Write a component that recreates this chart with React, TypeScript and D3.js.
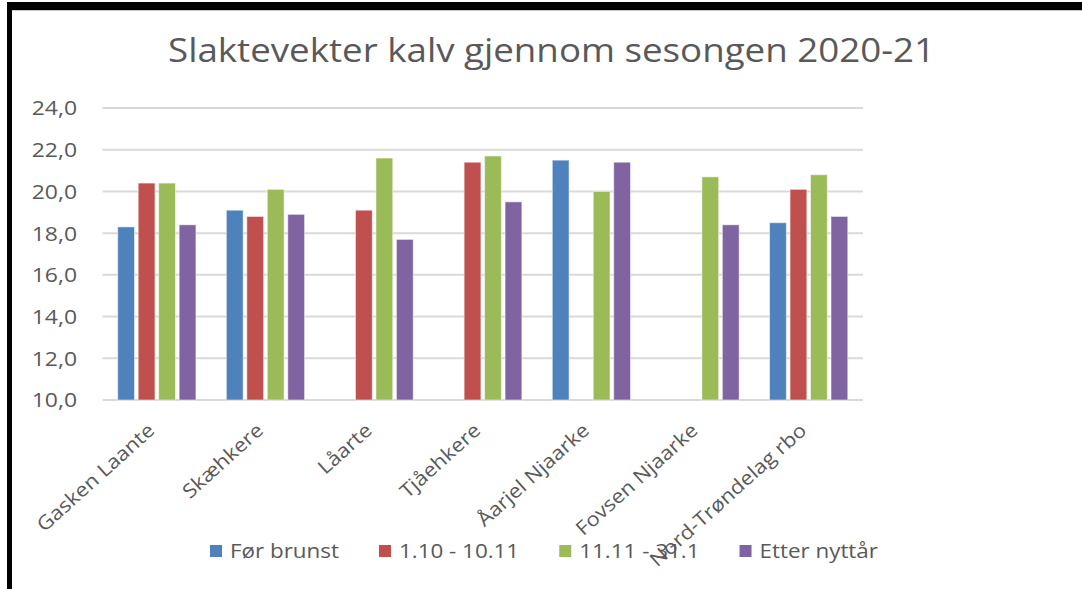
import { scaleBand, scaleLinear, format } from "d3";

const width = 1082;
const height = 589;

const categories = [
  "Gasken Laante",
  "Skæhkere",
  "Låarte",
  "Tjåehkere",
  "Åarjel Njaarke",
  "Fovsen Njaarke",
  "Nord-Trøndelag rbo",
];
const seriesNames = ["Før brunst", "1.10 - 10.11", "11.11 - 31.1", "Etter nyttår"];
const seriesColors = ["#4f81bd", "#c0504d", "#9bbb59", "#8064a2"];

const forBrunst = [18.3, 19.1, null, null, 21.5, null, 18.5];
const oktNov = [20.4, 18.8, 19.1, 21.4, null, null, 20.1];
const novJan = [20.4, 20.1, 21.6, 21.7, 20.0, 20.7, 20.8];
const etterNyttar = [18.4, 18.9, 17.7, 19.5, 21.4, 18.4, 18.8];
const yTicks = [10, 12, 14, 16, 18, 20, 22, 24];

const series = [forBrunst, oktNov, novJan, etterNyttar];
const title = "Slaktevekter kalv gjennom sesongen 2020-21";
const font = "'Open Sans', 'Noto Sans', sans-serif";
const textColor = "#595959";
// the source image is a bit stretched sideways
const sx = 1.12;

const plot = { left: 102.5, right: 863, top: 108, bottom: 400 };

function measure(text: string, size: number) {
  const ctx = document.createElement("canvas").getContext("2d");
  if (!ctx) return text.length * size * 0.55;
  ctx.font = `${size}px 'Open Sans'`;
  return ctx.measureText(text).width;
}

export default function App() {
  const x0 = scaleBand<string>()
    .domain(categories)
    .range([plot.left, plot.right])
    .paddingInner(0.28)
    .paddingOuter(0.14);
  const x1 = scaleBand<number>()
    .domain([0, 1, 2, 3])
    .range([0, x0.bandwidth()])
    .paddingInner(0.18);
  const y = scaleLinear().domain([10, 24]).range([plot.bottom, plot.top]);
  const fmt = (v: number) => format(".1f")(v).replace(".", ",");

  const legendSize = 20;
  const widths = seriesNames.map((s) => measure(s, legendSize) * sx);
  const itemW = widths.map((w) => 12 + 8 + w);
  const gap = 40;
  const total = itemW.reduce((a, b) => a + b, 0) + gap * (itemW.length - 1);
  let lx = 544 - total / 2;
  const legendX = itemW.map((w) => {
    const p = lx;
    lx += w + gap;
    return p;
  });

  return (
    <svg
      width={width}
      height={height}
      style={{ position: "absolute", left: 0, top: 0, background: "#fff" }}
      fontFamily={font}
    >
      <rect x={0} y={0} width={width} height={height} fill="#fff" />
      {/* frame */}
      <rect x={7} y={2} width={width - 7} height={8} fill="#000" />
      <rect x={7} y={2} width={5} height={height} fill="#000" />
      <line x1={12} x2={width} y1={10.5} y2={10.5} stroke="#c8c8c8" />

      <text
        x={168}
        y={62}
        fontSize={32}
        fill={textColor}
        textLength={767}
        lengthAdjust="spacingAndGlyphs"
      >
        {title}
      </text>

      {yTicks.map((t) => (
        <g key={t}>
          <line
            x1={plot.left}
            x2={plot.right}
            y1={y(t)}
            y2={y(t)}
            stroke="#d9d9d9"
            strokeWidth={2}
          />
          <text
            transform={`translate(77,${y(t)}) scale(${sx},1)`}
            dy="0.36em"
            textAnchor="end"
            fontSize={20.5}
            fill={textColor}
          >
            {fmt(t)}
          </text>
        </g>
      ))}

      {categories.map((c, ci) => (
        <g key={c} transform={`translate(${x0(c)},0)`}>
          {series.map((s, si) => {
            const v = s[ci];
            if (v == null) return null;
            return (
              <rect
                key={si}
                x={x1(si)}
                y={y(v)}
                width={x1.bandwidth()}
                height={y(10) - y(v)}
                fill={seriesColors[si]}
                stroke="#fff"
                strokeOpacity={0.5}
                strokeWidth={1}
              />
            );
          })}
        </g>
      ))}

      {seriesNames.map((s, i) => (
        <g key={s} transform={`translate(${legendX[i]},0)`}>
          <rect x={0} y={545} width={12} height={12} fill={seriesColors[i]} />
          <text
            transform={`translate(20,551) scale(${sx},1)`}
            dy="0.36em"
            fontSize={legendSize}
            fill={textColor}
          >
            {s}
          </text>
        </g>
      ))}

      {categories.map((c) => {
        const cx = (x0(c) ?? 0) + x0.bandwidth() / 2;
        return (
          <text
            key={c}
            transform={`translate(${cx - 10},${422}) rotate(-42) scale(${sx},1)`}
            textAnchor="end"
            dy="0.7em"
            fontSize={19.5}
            fill={textColor}
          >
            {c}
          </text>
        );
      })}
    </svg>
  );
}
